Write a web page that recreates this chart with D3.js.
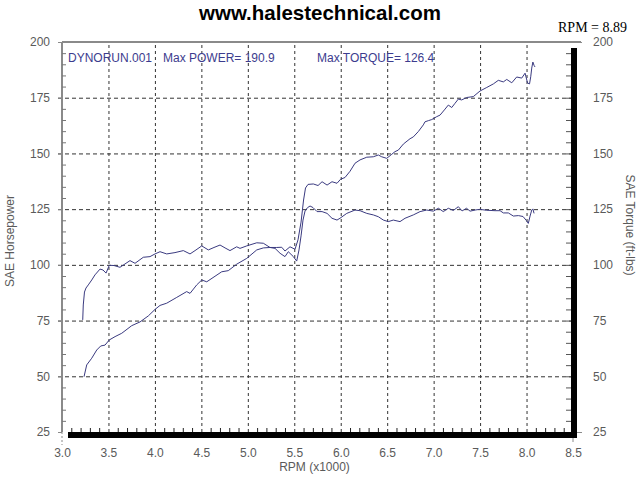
<!DOCTYPE html>
<html>
<head>
<meta charset="utf-8">
<script src="https://cdn.jsdelivr.net/npm/d3@7"></script>
<style>
  html, body { margin: 0; padding: 0; background: #fff; }
  svg { display: block; }
  text { font-family: "Liberation Sans", Arial, sans-serif; }
</style>
</head>
<body>
<svg id="chart" width="640" height="480"></svg>
<script>
// ---------- data ----------
const titleText = "www.halestechnical.com";
const rpmReadout = "RPM = 8.89";
const legendTexts = ["DYNORUN.001", "Max POWER= 190.9", "Max TORQUE= 126.4"];
const xTicks = [3.0, 3.5, 4.0, 4.5, 5.0, 5.5, 6.0, 6.5, 7.0, 7.5, 8.0, 8.5];
const yTicks = [25, 50, 75, 100, 125, 150, 175, 200];

const powerRpm = [3.237,3.266,3.320,3.374,3.417,3.463,3.509,3.571,3.643,3.750,3.840,3.929,4.001,4.055,4.127,4.235,4.342,4.378,4.450,4.504,4.558,4.719,4.790,4.880,4.988,5.096,5.167,5.239,5.311,5.365,5.400,5.454,5.508,5.540,5.573,5.600,5.621,5.648,5.705,5.756,5.799,5.853,5.906,5.960,5.998,6.046,6.100,6.154,6.208,6.280,6.351,6.405,6.441,6.495,6.549,6.584,6.620,6.674,6.746,6.781,6.835,6.889,6.907,6.943,6.980,7.033,7.069,7.123,7.158,7.195,7.230,7.266,7.302,7.356,7.427,7.499,7.572,7.643,7.696,7.750,7.787,7.841,7.894,7.948,7.984,8.011,8.032,8.045,8.056,8.068,8.081,8.091];
const powerHp = [49.8,55.1,58.1,61.8,63.6,64.0,66.3,67.8,69.3,72.7,74.4,77.1,80.0,81.8,82.8,85.4,88.0,87.2,91.0,93.2,92.4,96.9,97.4,100.3,102.9,106.7,107.6,107.8,107.8,107.9,106.2,108.1,107.0,111.2,119.2,129.1,134.5,136.1,136.3,135.6,137.3,135.8,137.3,136.6,138.4,139.2,142.0,145.6,147.1,148.3,148.5,149.3,148.5,147.8,149.6,150.8,151.5,154.2,156.6,157.4,159.8,162.8,164.2,164.7,165.2,166.5,167.2,169.9,171.7,170.6,172.5,174.4,174.0,175.1,175.5,178.0,179.6,181.2,182.8,182.1,183.2,181.7,184.3,183.8,186.0,181.6,181.2,184.4,188.3,191.0,189.5,188.8];

const torqueRpm = [3.223,3.229,3.242,3.258,3.283,3.320,3.355,3.409,3.441,3.474,3.509,3.560,3.624,3.678,3.732,3.786,3.875,3.947,4.001,4.055,4.127,4.216,4.306,4.378,4.432,4.504,4.575,4.636,4.701,4.755,4.808,4.880,4.916,4.988,5.096,5.167,5.239,5.293,5.347,5.400,5.436,5.490,5.526,5.551,5.573,5.594,5.616,5.643,5.670,5.702,5.745,5.799,5.853,5.906,5.960,5.992,6.065,6.154,6.208,6.280,6.351,6.405,6.459,6.512,6.566,6.638,6.692,6.781,6.854,6.926,6.997,7.051,7.104,7.158,7.212,7.266,7.306,7.354,7.392,7.446,7.494,7.572,7.661,7.715,7.750,7.804,7.858,7.912,7.962,7.998,8.019,8.038,8.056,8.068,8.081];
const torqueLbft = [75.3,82.0,87.8,89.6,91.0,93.2,95.5,98.1,97.7,96.3,99.8,99.7,98.9,100.4,101.9,100.7,103.4,103.7,104.9,105.9,104.9,105.5,106.4,104.9,106.4,108.5,106.7,107.8,108.9,107.6,106.4,108.1,107.4,108.5,109.9,109.7,107.8,107.4,105.2,103.7,105.9,103.7,101.7,106.7,113.0,120.1,124.2,125.7,126.4,125.7,123.9,123.9,123.1,120.9,120.1,120.9,123.1,124.6,124.3,123.1,122.4,121.6,120.1,119.4,120.1,119.4,120.9,122.4,123.9,124.6,124.1,125.4,123.9,125.4,124.4,126.1,124.2,125.4,124.1,124.6,124.9,124.5,124.3,124.3,123.3,123.3,121.9,122.1,121.7,119.9,118.6,121.9,124.6,125.1,123.1];

// ---------- setup ----------
const svg = d3.select("#chart");
const x = d3.scaleLinear().domain([3.0, 8.5]).range([62, 573]);
const y = d3.scaleLinear().domain([25, 200]).range([432, 42]);
const lineColor = "#3a3a80";
const labelColor = "#5a5a5a";
const textBlue = "#3c3c8e";

// minor tick values
const yMinor = d3.range(25, 200.01, 5).filter(v => v % 25 !== 0);
const xMinor = d3.range(31, 85, 1).map(v => v / 10).filter(v => Math.round(v * 10) % 5 !== 0);

// ---------- gridlines ----------
const gridH = svg.append("g").attr("transform", `translate(${x(3.0)},0)`)
  .call(d3.axisLeft(y).tickValues(yTicks.filter(v => v > 25 && v < 200))
    .tickSize(-(x(8.5) - x(3.0))).tickSizeOuter(0).tickFormat(""));
gridH.select(".domain").remove();
gridH.selectAll(".tick line").attr("stroke", "#333").attr("stroke-dasharray", "4,3")
  .attr("x1", -4);

const gridV = svg.append("g").attr("transform", `translate(0,${y(25)})`)
  .call(d3.axisBottom(x).tickValues(xTicks.filter(v => v > 3.0 && v < 8.5))
    .tickSize(-(y(25) - y(200))).tickSizeOuter(0).tickFormat(""));
gridV.select(".domain").remove();
gridV.selectAll(".tick line").attr("stroke", "#333").attr("stroke-dasharray", "3,3");

// ---------- frame ----------
svg.append("line").attr("x1", x(3.0)).attr("x2", x(8.5) + 8).attr("y1", y(200)).attr("y2", y(200))
  .attr("stroke", "#8a8a8a").attr("stroke-width", 2);
svg.append("line").attr("x1", x(3.0)).attr("x2", x(3.0)).attr("y1", y(200)).attr("y2", y(25))
  .attr("stroke", "#8a8a8a").attr("stroke-width", 2);
svg.append("line").attr("x1", x(3.0)).attr("x2", x(3.0)).attr("y1", y(25)).attr("y2", y(25) + 13)
  .attr("stroke", "#8a8a8a").attr("stroke-width", 1).attr("stroke-dasharray", "2,2");

// minor ticks left (inward)
const lm = svg.append("g").attr("transform", `translate(${x(3.0)},0)`)
  .call(d3.axisLeft(y).tickValues(yMinor).tickSize(-4).tickSizeOuter(0).tickFormat(""));
lm.select(".domain").remove();
lm.selectAll("line").attr("stroke", "#777");

// minor ticks right (inward)
const rm = svg.append("g").attr("transform", `translate(${x(8.5) - 2},0)`)
  .call(d3.axisRight(y).tickValues(yMinor.concat(yTicks.filter(v => v > 25 && v < 200))).tickSize(-5).tickSizeOuter(0).tickFormat(""));
rm.select(".domain").remove();
rm.selectAll("line").attr("stroke", "#555");

// minor ticks bottom (upward)
const bm = svg.append("g").attr("transform", `translate(0,${y(25)})`)
  .call(d3.axisBottom(x).tickValues(xMinor).tickSize(-4).tickSizeOuter(0).tickFormat(""));
bm.select(".domain").remove();
bm.selectAll("line").attr("stroke", "#222");

// black shadow bars (right and bottom edges)
svg.append("rect").attr("x", x(8.5) - 2).attr("y", y(200) + 6).attr("width", 6)
  .attr("height", y(25) - y(200)).attr("fill", "#000");
svg.append("rect").attr("x", x(3.0) + 6).attr("y", y(25)).attr("width", x(8.5) - x(3.0) - 2)
  .attr("height", 6).attr("fill", "#000");

// ---------- axes labels ----------
const axL = svg.append("g").attr("transform", `translate(${x(3.0)},0)`)
  .call(d3.axisLeft(y).tickValues(yTicks).tickSize(4).tickSizeOuter(0).tickPadding(8));
axL.select(".domain").remove();
axL.selectAll("line").attr("stroke", "#8a8a8a");
axL.selectAll("text").attr("fill", labelColor).style("font-size", "12px")
  .style("font-family", "'Liberation Sans', Arial, sans-serif");

const axR = svg.append("g").attr("transform", `translate(${x(8.5) + 4},0)`)
  .call(d3.axisRight(y).tickValues(yTicks).tickSize(0).tickSizeOuter(0).tickPadding(16));
axR.select(".domain").remove();
axR.selectAll("text").attr("fill", labelColor).style("font-size", "12px")
  .style("font-family", "'Liberation Sans', Arial, sans-serif");
const axRt = svg.append("g").attr("transform", `translate(${x(8.5) + 4},0)`)
  .call(d3.axisRight(y).tickValues([25, 200]).tickSize(5).tickSizeOuter(0).tickFormat(""));
axRt.select(".domain").remove();
axRt.selectAll("line").attr("stroke", "#8a8a8a");

const axB = svg.append("g").attr("transform", `translate(0,${y(25)})`)
  .call(d3.axisBottom(x).tickValues(xTicks).tickSize(0).tickSizeOuter(0).tickPadding(16)
    .tickFormat(d3.format(".1f")));
axB.select(".domain").remove();
axB.selectAll("text").attr("fill", labelColor).style("font-size", "12px")
  .style("font-family", "'Liberation Sans', Arial, sans-serif");
svg.append("line").attr("x1", x(8.5)).attr("x2", x(8.5)).attr("y1", y(25) + 6).attr("y2", y(25) + 10)
  .attr("stroke", "#8a8a8a");

// axis titles
svg.append("text").attr("transform", `translate(14,${(y(200) + y(25)) / 2 + 4}) rotate(-90)`)
  .attr("text-anchor", "middle").attr("fill", labelColor).style("font-size", "12px")
  .text("SAE Horsepower");
svg.append("text").attr("transform", `translate(626,${(y(200) + y(25)) / 2 - 12}) rotate(90)`)
  .attr("text-anchor", "middle").attr("fill", labelColor).style("font-size", "12px")
  .text("SAE Torque (ft-lbs)");
svg.append("text").attr("x", (x(3.0) + x(8.5)) / 2 - 3).attr("y", 471)
  .attr("text-anchor", "middle").attr("fill", labelColor).style("font-size", "12px")
  .text("RPM (x1000)");

// title and readout
svg.append("text").attr("x", 320).attr("y", 20).attr("text-anchor", "middle")
  .style("font-size", "20.5px").style("font-weight", "bold").attr("fill", "#000")
  .text(titleText);
svg.append("text").attr("x", 627).attr("y", 32).attr("text-anchor", "end")
  .style("font-family", "'Liberation Serif', 'Times New Roman', serif").style("font-size", "14px")
  .attr("fill", "#000").text(rpmReadout);

// legend line
const legendX = [68, 163, 317];
svg.selectAll(".legend").data(legendTexts).join("text").attr("class", "legend")
  .attr("x", (d, i) => legendX[i]).attr("y", 62)
  .attr("fill", textBlue).style("font-size", "12px").text(d => d);

// ---------- curves ----------
const line = d3.line().x(d => x(d[0])).y(d => y(d[1])).curve(d3.curveLinear);
const powerData = powerRpm.map((r, i) => [r, powerHp[i]]);
const torqueData = torqueRpm.map((r, i) => [r, torqueLbft[i]]);
svg.append("path").datum(torqueData).attr("d", line).attr("fill", "none")
  .attr("stroke", lineColor).attr("stroke-width", 1);
svg.append("path").datum(powerData).attr("d", line).attr("fill", "none")
  .attr("stroke", lineColor).attr("stroke-width", 1);
</script>
</body>
</html>
